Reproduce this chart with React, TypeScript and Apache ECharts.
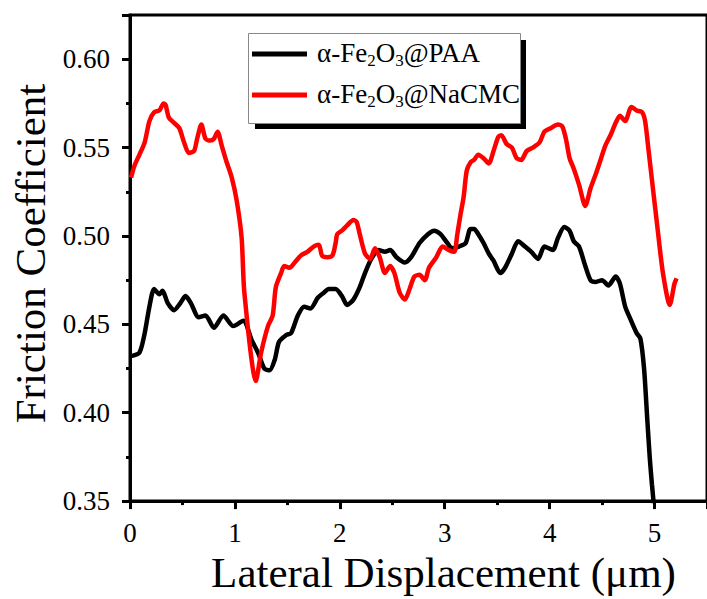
import React, { useEffect, useRef } from "react";
import * as echarts from "echarts";

// Lateral displacement (µm) and friction coefficient, α-Fe2O3@PAA
const paaX = [0.01, 0.09, 0.14, 0.185, 0.23, 0.28, 0.31, 0.36, 0.42, 0.48, 0.53, 0.58, 0.655, 0.72, 0.8, 0.89, 0.985, 1.08, 1.16, 1.22, 1.28, 1.33, 1.38, 1.42, 1.49, 1.535, 1.6, 1.66, 1.72, 1.79, 1.85, 1.895, 1.96, 2.02, 2.07, 2.13, 2.19, 2.24, 2.3, 2.37, 2.43, 2.48, 2.54, 2.62, 2.68, 2.76, 2.84, 2.9, 2.96, 3.025, 3.07, 3.135, 3.2, 3.245, 3.28, 3.32, 3.37, 3.42, 3.465, 3.53, 3.575, 3.64, 3.7, 3.765, 3.825, 3.89, 3.95, 4.03, 4.08, 4.14, 4.19, 4.23, 4.28, 4.34, 4.39, 4.44, 4.5, 4.56, 4.63, 4.67, 4.72, 4.77, 4.83, 4.865, 4.9, 4.93, 4.955, 4.975, 4.99, 5.0];
const paaY = [0.432, 0.434, 0.445, 0.46, 0.47, 0.467, 0.469, 0.462, 0.458, 0.462, 0.466, 0.462, 0.454, 0.455, 0.448, 0.455, 0.449, 0.452, 0.441, 0.434, 0.425, 0.424, 0.43, 0.44, 0.444, 0.445, 0.455, 0.46, 0.459, 0.465, 0.468, 0.47, 0.47, 0.466, 0.461, 0.464, 0.471, 0.479, 0.487, 0.492, 0.491, 0.492, 0.488, 0.485, 0.488, 0.496, 0.501, 0.503, 0.501, 0.496, 0.493, 0.494, 0.496, 0.504, 0.504, 0.501, 0.496, 0.49, 0.486, 0.479, 0.482, 0.49, 0.497, 0.494, 0.491, 0.487, 0.494, 0.492, 0.499, 0.505, 0.503, 0.497, 0.494, 0.483, 0.475, 0.474, 0.475, 0.472, 0.477, 0.473, 0.46, 0.453, 0.445, 0.442, 0.425, 0.397, 0.374, 0.3595, 0.35, 0.343];

// α-Fe2O3@NaCMC
const cmcX = [0.01, 0.044, 0.09, 0.14, 0.185, 0.23, 0.28, 0.32, 0.34, 0.37, 0.42, 0.47, 0.515, 0.56, 0.61, 0.64, 0.68, 0.72, 0.765, 0.8, 0.835, 0.875, 0.92, 0.97, 1.017, 1.064, 1.09, 1.2, 1.25, 1.315, 1.36, 1.39, 1.44, 1.47, 1.52, 1.57, 1.63, 1.69, 1.75, 1.8, 1.83, 1.88, 1.93, 1.96, 1.975, 2.02, 2.07, 2.13, 2.16, 2.19, 2.24, 2.29, 2.335, 2.38, 2.43, 2.48, 2.52, 2.57, 2.62, 2.665, 2.71, 2.76, 2.81, 2.85, 2.92, 2.98, 3.04, 3.09, 3.12, 3.15, 3.18, 3.21, 3.25, 3.28, 3.32, 3.37, 3.42, 3.465, 3.51, 3.54, 3.59, 3.64, 3.685, 3.73, 3.78, 3.84, 3.905, 3.95, 4.01, 4.08, 4.12, 4.155, 4.19, 4.23, 4.28, 4.34, 4.39, 4.44, 4.485, 4.53, 4.58, 4.63, 4.67, 4.72, 4.78, 4.83, 4.88, 4.91, 4.94, 4.99, 5.035, 5.08, 5.145, 5.19, 5.21];
const cmcY = [0.533, 0.54, 0.546, 0.553, 0.565, 0.57, 0.571, 0.575, 0.574, 0.567, 0.564, 0.561, 0.553, 0.547, 0.548, 0.555, 0.563, 0.555, 0.554, 0.555, 0.559, 0.551, 0.542, 0.533, 0.52, 0.499, 0.468, 0.418, 0.434, 0.449, 0.455, 0.471, 0.479, 0.483, 0.482, 0.485, 0.489, 0.491, 0.494, 0.495, 0.489, 0.488, 0.489, 0.496, 0.501, 0.503, 0.506, 0.509, 0.508, 0.501, 0.49, 0.487, 0.493, 0.488, 0.479, 0.483, 0.479, 0.468, 0.464, 0.47, 0.477, 0.478, 0.475, 0.482, 0.488, 0.494, 0.492, 0.491, 0.501, 0.512, 0.522, 0.537, 0.542, 0.543, 0.546, 0.544, 0.541, 0.548, 0.556, 0.557, 0.552, 0.55, 0.544, 0.543, 0.548, 0.55, 0.553, 0.559, 0.561, 0.563, 0.562, 0.555, 0.544, 0.538, 0.529, 0.517, 0.527, 0.535, 0.543, 0.551, 0.557, 0.564, 0.568, 0.565, 0.573, 0.571, 0.57, 0.565, 0.55, 0.524, 0.501, 0.479, 0.461, 0.473, 0.476];

const seriesNames = ["α-Fe2O3@PAA", "α-Fe2O3@NaCMC"];
const legendLabels: Record<string, string> = {
  "α-Fe2O3@PAA": "{n|α-Fe}{s|2}{n|O}{s|3}{n|@PAA}",
  "α-Fe2O3@NaCMC": "{n|α-Fe}{s|2}{n|O}{s|3}{n|@NaCMC}",
};
const seriesColors = ["#000000", "#ff0000"];

const xAxisName = "Lateral Displacement (μm)";
const yAxisName = "Friction Coefficient";

const FONT = "Liberation Serif";
const tickRich = { t: { fontFamily: FONT, fontSize: 27, color: "#000" } };

export default function App() {
  const ref = useRef<HTMLDivElement>(null);
  useEffect(() => {
    if (!ref.current) return;
    const chart = echarts.init(ref.current, undefined, { renderer: "svg" });
    const pairs = (xs: number[], ys: number[]) => xs.map((x, i) => [x, ys[i]]);
    chart.setOption({
      animation: false,
      backgroundColor: "#ffffff",
      textStyle: { fontFamily: FONT },
      grid: {
        left: 130,
        top: 15,
        bottom: 92,
        right: -7,
        show: true,
        borderColor: "#000",
        borderWidth: 3,
        backgroundColor: "transparent",
      },
      legend: {
        orient: "vertical",
        left: 252,
        top: 39,
        z: 6,
        padding: 0,
        itemGap: 11,
        itemWidth: 55,
        itemHeight: 5,
        icon: "rect",
        data: seriesNames,
        formatter: (name: string) => legendLabels[name] || name,
        textStyle: {
          fontFamily: FONT,
          color: "#000",
          padding: [0, 0, 0, 5],
          rich: {
            n: { fontFamily: FONT, fontSize: 27, lineHeight: 30, padding: [0, 0, 2, 0], color: "#000", verticalAlign: "top" },
            s: { fontFamily: FONT, fontSize: 17, lineHeight: 17, color: "#000", verticalAlign: "bottom" },
          },
        },
      },
      graphic: [
        {
          type: "rect",
          left: 255,
          top: 40,
          z: 4,
          shape: { width: 271, height: 89 },
          style: { fill: "#000" },
        },
        {
          type: "rect",
          left: 248,
          top: 33,
          z: 5,
          shape: { width: 272, height: 90 },
          style: { fill: "#fff", stroke: "#888", lineWidth: 1 },
        },
      ],
      xAxis: {
        type: "value",
        min: 0,
        max: 5.5,
        interval: 1,
        name: xAxisName,
        nameLocation: "middle",
        nameGap: 44,
        nameTextStyle: { fontFamily: FONT, fontSize: 43, color: "#000", padding: [0, 0, 0, 50] },
        axisLine: { show: true, onZero: false, lineStyle: { color: "#000", width: 3 } },
        axisTick: { show: true, inside: false, length: 8, lineStyle: { color: "#000", width: 3 } },
        minorTick: { show: true, splitNumber: 2, length: 4, lineStyle: { color: "#000", width: 3 } },
        axisLabel: {
          fontFamily: FONT,
          fontSize: 27,
          color: "#000",
          margin: 18,
          showMaxLabel: false,
          formatter: (v: number) => `{t|${String(v)}}`,
          rich: tickRich,
        },
        splitLine: { show: false },
      },
      yAxis: {
        type: "value",
        min: 0.35,
        max: 0.625,
        interval: 0.05,
        name: yAxisName,
        nameLocation: "middle",
        nameGap: 76,
        nameTextStyle: { fontFamily: FONT, fontSize: 43, color: "#000", padding: [0, 0, 0, 9] },
        axisLine: { show: true, onZero: false, lineStyle: { color: "#000", width: 3 } },
        axisTick: { show: true, inside: false, length: 8, lineStyle: { color: "#000", width: 3 } },
        minorTick: { show: true, splitNumber: 2, length: 4, lineStyle: { color: "#000", width: 3 } },
        axisLabel: {
          fontFamily: FONT,
          fontSize: 27,
          color: "#000",
          margin: 20,
          showMaxLabel: false,
          formatter: (v: number) => `{t|${v.toFixed(2)}}`,
          rich: tickRich,
        },
        splitLine: { show: false },
      },
      series: [
        {
          name: seriesNames[0],
          type: "line",
          data: pairs(paaX, paaY),
          showSymbol: false,
          symbol: "none",
          smooth: 0.25,
          clip: true,
          color: seriesColors[0],
          lineStyle: { color: seriesColors[0], width: 4.5 },
          z: 2,
        },
        {
          name: seriesNames[1],
          type: "line",
          data: pairs(cmcX, cmcY),
          showSymbol: false,
          symbol: "none",
          smooth: 0.25,
          clip: true,
          color: seriesColors[1],
          lineStyle: { color: seriesColors[1], width: 4.5 },
          z: 3,
        },
      ],
    });
    return () => chart.dispose();
  }, []);
  return (
    <div
      ref={ref}
      style={{ position: "absolute", left: 0, top: 0, width: 707, height: 599, background: "#fff" }}
    />
  );
}
